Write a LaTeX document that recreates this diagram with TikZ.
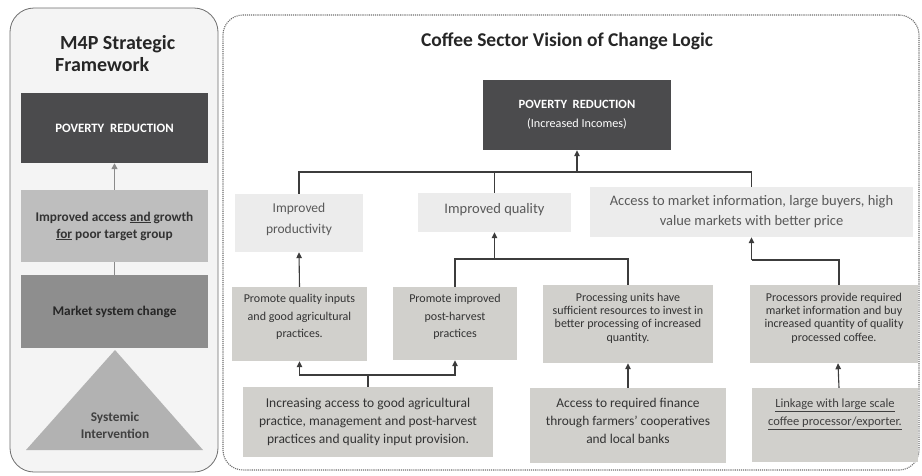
\documentclass[tikz,border=0pt]{standalone}
\usepackage{fontspec}
\setmainfont{Carlito}
\usetikzlibrary{arrows.meta}

\definecolor{panelfill}{HTML}{F4F4F4}
\definecolor{panelline}{HTML}{6E6E6E}
\definecolor{darkfill}{HTML}{4B4B4D}
\definecolor{accessfill}{HTML}{BEBEBE}
\definecolor{marketfill}{HTML}{8E8E8E}
\definecolor{trifill}{HTML}{B2B2B2}
\definecolor{lightfill}{HTML}{ECECEC}
\definecolor{midfill}{HTML}{D1D0CC}
\definecolor{linkgray}{HTML}{3C3C3C}
\definecolor{softarrow}{HTML}{8A8A8A}

% font size with explicit baseline skip
\newcommand{\fsb}[2]{\fontsize{#1}{#2}\selectfont}

\tikzset{
  basebox/.style={rectangle, inner sep=2pt, align=center},
  darkbox/.style={basebox, fill=darkfill, text=white},
  leftbox/.style={basebox, minimum width=187pt, text=black!80, font=\bfseries\fsb{13.3}{17}},
  lightbox/.style={basebox, fill=lightfill, text=black!65, font=\fsb{14.5}{20}},
  midbox/.style={basebox, fill=midfill, text=black!80, font=\fsb{12}{17.5}},
  boxtext/.style={basebox, text=black!80, font=\fsb{12}{17.5}},
  conn/.style={draw=linkgray, line width=1.1pt},
  arr/.style={conn, -{Triangle[width=5.5pt,length=6pt]}},
  softarr/.style={draw=softarrow, line width=1.4pt, -{Triangle[width=6pt,length=6pt]}},
  titletext/.style={font=\bfseries\fsb{20}{22}, text=black!85},
}

\begin{document}
\begin{tikzpicture}[x=1pt,y=-1pt]
\useasboundingbox[fill=white] (0,0) rectangle (922,475);

% ---------------- M4P strategic framework ----------------
\node[draw=panelline, fill=panelfill, line width=0.8pt, rounded corners=24pt,
      minimum width=208pt, minimum height=464pt] (lpanel) at (114,240) {};
\node[titletext, align=left, anchor=west, inner sep=0pt] (ltitle) at (55,54)
  {\hspace*{5pt}M4P Strategic\\Framework};

\node[darkbox, minimum width=187pt, minimum height=70pt,
      font=\bfseries\fsb{12.8}{15}] (lpov) at (114.5,128) {POVERTY\ \ REDUCTION};
\node[leftbox, fill=accessfill, minimum height=72pt] (lacc) at (114.5,226)
  {Improved access \underline{and} growth\\\underline{for} poor target group};
\node[leftbox, fill=marketfill, minimum height=73pt, text=black!85] (lmkt) at (114.5,311.5)
  {Market system change};

\path[fill=trifill] (115,350) -- (203,450) -- (26,450) -- cycle;
\node[basebox, font=\bfseries\fsb{13.3}{17}, text=black!75] (lsys) at (115,425)
  {Systemic\\Intervention};

\draw[softarr] (lacc.north) -- (lpov.south);
\draw[draw=softarrow, line width=1.4pt] (lacc.south) -- (lmkt.north);

% ---------------- Coffee sector vision of change ----------------
\node[draw=panelline, densely dotted, line width=1.1pt, rounded corners=20pt,
      minimum width=696pt, minimum height=455pt] (rpanel) at (571,242.5) {};
\node[titletext, font=\bfseries\fsb{19.5}{22}] (rtitle) at (567,41)
  {Coffee Sector Vision of Change Logic};

\node[darkbox, minimum width=188pt, minimum height=70pt] (rpov) at (577,115)
  {{\bfseries\fsb{12.6}{15}POVERTY\ \ REDUCTION}\\[7pt]{\fsb{12.2}{15}(Increased Incomes)}};

% outcome level
\node[lightbox, minimum width=128pt, minimum height=58pt] (prod) at (299,223) {};
\node[basebox, text=black!65, font=\fsb{13.5}{21}] (prodtext) at (299,219)
  {Improved\\productivity};
\node[lightbox, minimum width=153pt, minimum height=39pt] (qual) at (494.5,212.5) {};
\node[basebox, text=black!65, font=\fsb{14.5}{20}] (qualtext) at (494.5,209.5)
  {Improved quality};
\node[lightbox, minimum width=323pt, minimum height=50pt] (acc) at (751.5,212)
  {Access to market information, large buyers, high\\value markets with better price};

% intermediate level
\node[midbox, minimum width=135pt, minimum height=74pt] (pqi) at (299.5,324) {};
\node[boxtext] (pqitext) at (299.5,317)
  {Promote quality inputs\\and good agricultural\\practices.};
\node[midbox, minimum width=124pt, minimum height=73pt] (pph) at (455,323.5) {};
\node[boxtext] (pphtext) at (455,317)
  {Promote improved\\post-harvest\\practices};
\node[midbox, minimum width=170pt, minimum height=78pt] (pu) at (628,324) {};
\node[boxtext, font=\fsb{12}{13.3}] (putext) at (628,318)
  {Processing units have\\sufficient resources to invest in\\better processing of increased\\quantity.};
\node[midbox, minimum width=168pt, minimum height=78pt] (pp) at (834,324) {};
\node[boxtext, font=\fsb{12}{13.3}] (pptext) at (834,318)
  {Processors provide required\\market information and buy\\increased quantity of quality\\processed coffee.};

% intervention level
\node[midbox, font=\fsb{13.5}{18}, minimum width=250pt, minimum height=70pt] (inc) at (368,422)
  {Increasing access to good agricultural\\practice, management and post-harvest\\practices and quality input provision.};
\node[midbox, minimum width=196pt, minimum height=75pt] (fin) at (628,425.5) {};
\node[boxtext, font=\fsb{13.4}{18}] (fintext) at (628,421)
  {Access to required finance\\through farmers' cooperatives\\and local banks};
\node[midbox, minimum width=166pt, minimum height=74pt] (lnk) at (835,425) {};
\node[basebox, font=\fsb{12.5}{18}, text=black!75, anchor=north] (lnktext) at (835,397)
  {\underline{Linkage with large scale}\\\underline{coffee processor/exporter.}};

% connectors
\coordinate (tj) at (577,172);
\draw[conn] (prod.north) |- (tj) -| (acc.north);
\draw[conn] (qual.north) -- (qual.north |- tj);
\draw[arr] (tj) -- (rpov.south);

\draw[arr] (pqi.north) -- (prod.south);

\coordinate (qj) at (494.5,259);
\draw[conn] (pph.north) |- (qj);
\draw[conn] (pu.north) |- (qj);
\draw[arr] (qj) -- (qual.south);

\coordinate (mj) at (751.5,260);
\draw[conn] ([xshift=5pt]pp.north) |- (mj);
\draw[arr] (mj) -- (acc.south);

\coordinate (ij) at (368,375);
\draw[conn] (inc.north) -- (ij);
\draw[arr] (ij) -| (pqi.south);
\draw[arr] (ij) -| (pph.south);

\draw[arr] (fin.north) -- (pu.south);
\draw[arr] ([xshift=4pt]lnk.north) -- ([xshift=4pt]pp.south);
\end{tikzpicture}
\end{document}
